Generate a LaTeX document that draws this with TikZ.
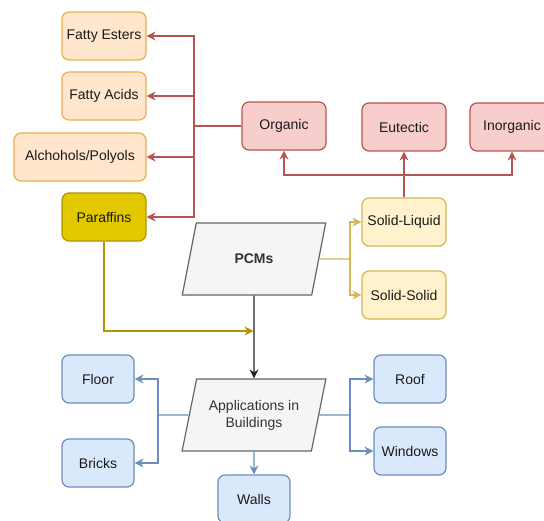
\documentclass[tikz,border=0pt]{standalone}
\usepackage{fontspec}
\setmainfont{Liberation Sans}
\usetikzlibrary{shapes.geometric,arrows.meta}
\definecolor{orfill}{HTML}{FFE6CC}\definecolor{ordraw}{HTML}{E8B04A}
\definecolor{rdfill}{HTML}{F8CECC}\definecolor{rddraw}{HTML}{B85450}
\definecolor{ylfill}{HTML}{FFF2CC}\definecolor{yldraw}{HTML}{D6B656}
\definecolor{pafill}{HTML}{E3C800}\definecolor{padraw}{HTML}{B09500}
\definecolor{blfill}{HTML}{DAE8FC}\definecolor{bldraw}{HTML}{6C8EBF}
\definecolor{gyfill}{HTML}{F5F5F5}\definecolor{gydraw}{HTML}{666666}
\definecolor{gytext}{HTML}{333333}\definecolor{txt}{HTML}{1A1A1A}
\tikzset{
  box/.style={rectangle,rounded corners=7pt,line width=1.2pt,minimum height=48pt,
    inner sep=2pt,text=txt,font=\fontsize{14}{16}\selectfont},
  orbox/.style={box,fill=orfill,draw=ordraw,minimum width=84pt},
  rdbox/.style={box,fill=rdfill,draw=rddraw,minimum width=84pt},
  ylbox/.style={box,fill=ylfill,draw=yldraw,minimum width=84pt},
  pabox/.style={box,fill=pafill,draw=padraw,minimum width=84pt},
  blbox/.style={box,fill=blfill,draw=bldraw,minimum width=72pt},
  para/.style={trapezium,trapezium left angle=71.57,trapezium right angle=108.43,
    trapezium stretches=true,minimum width=144pt,minimum height=72pt,
    fill=gyfill,draw=gydraw,line width=1.2pt,text=gytext,align=center,
    font=\fontsize{14}{17}\selectfont},
  tip/.style={-{Stealth[length=9pt,width=9pt,inset=3pt]}},
  rdline/.style={draw=rddraw,line width=1.2pt},
  ylline/.style={draw=yldraw,line width=1.2pt},
  paline/.style={draw=padraw,line width=1.2pt},
  blline/.style={draw=bldraw,line width=1.2pt},
  bkline/.style={draw=black!85,line width=1.2pt},
}
\begin{document}
\begin{tikzpicture}[x=1pt,y=-1pt]
\useasboundingbox (0,0) rectangle (544,520);
\clip (0,0) rectangle (544,520);
\fill[white] (0,0) rectangle (544,520);
% orange column
\node[orbox] (fe) at (104,36) {Fatty Esters};
\node[orbox] (fa) at (104,96) {Fatty Acids};
\node[orbox,minimum width=132pt] (al) at (80,157) {Alchohols/Polyols};
\node[pabox] (pa) at (104,217) {Paraffins};
% red row
\node[rdbox] (org) at (284,126) {Organic};
\node[rdbox] (eut) at (404,127) {Eutectic};
\node[rdbox] (ino) at (512,127) {Inorganic};
% yellow
\node[ylbox] (sl) at (404,222) {Solid-Liquid};
\node[ylbox] (ss) at (404,295) {Solid-Solid};
% parallelograms
\node[para] (pcm) at (254,259) {\textbf{PCMs}};
\node[para] (app) at (254,415) {Applications in\\Buildings};
% blue
\node[blbox] (fl) at (98,379) {Floor};
\node[blbox] (br) at (98,463) {Bricks};
\node[blbox] (wa) at (254,499) {Walls};
\node[blbox] (ro) at (410,379) {Roof};
\node[blbox] (wi) at (410,451) {Windows};
% red connectors
\coordinate (jr) at (194,126);
\draw[rdline] (org.west) -- (jr);
\draw[rdline,tip] (jr) |- (fe.east);
\draw[rdline,tip] (jr) |- (fa.east);
\draw[rdline,tip] (jr) |- (al.east);
\draw[rdline,tip] (jr) |- (pa.east);
\coordinate (jt) at (404,175);
\draw[rdline,tip] (sl.north) -- (eut.south);
\draw[rdline,tip] (jt) -| (org.south);
\draw[rdline,tip] (jt) -| (ino.south);
% yellow connectors
\coordinate (jy) at (350,259);
\draw[ylline] (pcm.east) -- (jy);
\draw[ylline,tip] (jy) |- (sl.west);
\draw[ylline,tip] (jy) |- (ss.west);
% paraffin connector
\coordinate (pj) at (253.5,331);
\draw[paline,tip] (pa.south) |- (pj);
% black
\draw[bkline,tip] (pcm.south) -- (app.north);
% blue connectors
\coordinate (jl) at (158,415);
\draw[blline] (app.west) -- (jl);
\draw[blline,tip] (jl) |- (fl.east);
\draw[blline,tip] (jl) |- (br.east);
\coordinate (jq) at (350,415);
\draw[blline] (app.east) -- (jq);
\draw[blline,tip] (jq) |- (ro.west);
\draw[blline,tip] (jq) |- (wi.west);
\draw[blline,tip] (app.south) -- (wa.north);
\end{tikzpicture}
\end{document}
